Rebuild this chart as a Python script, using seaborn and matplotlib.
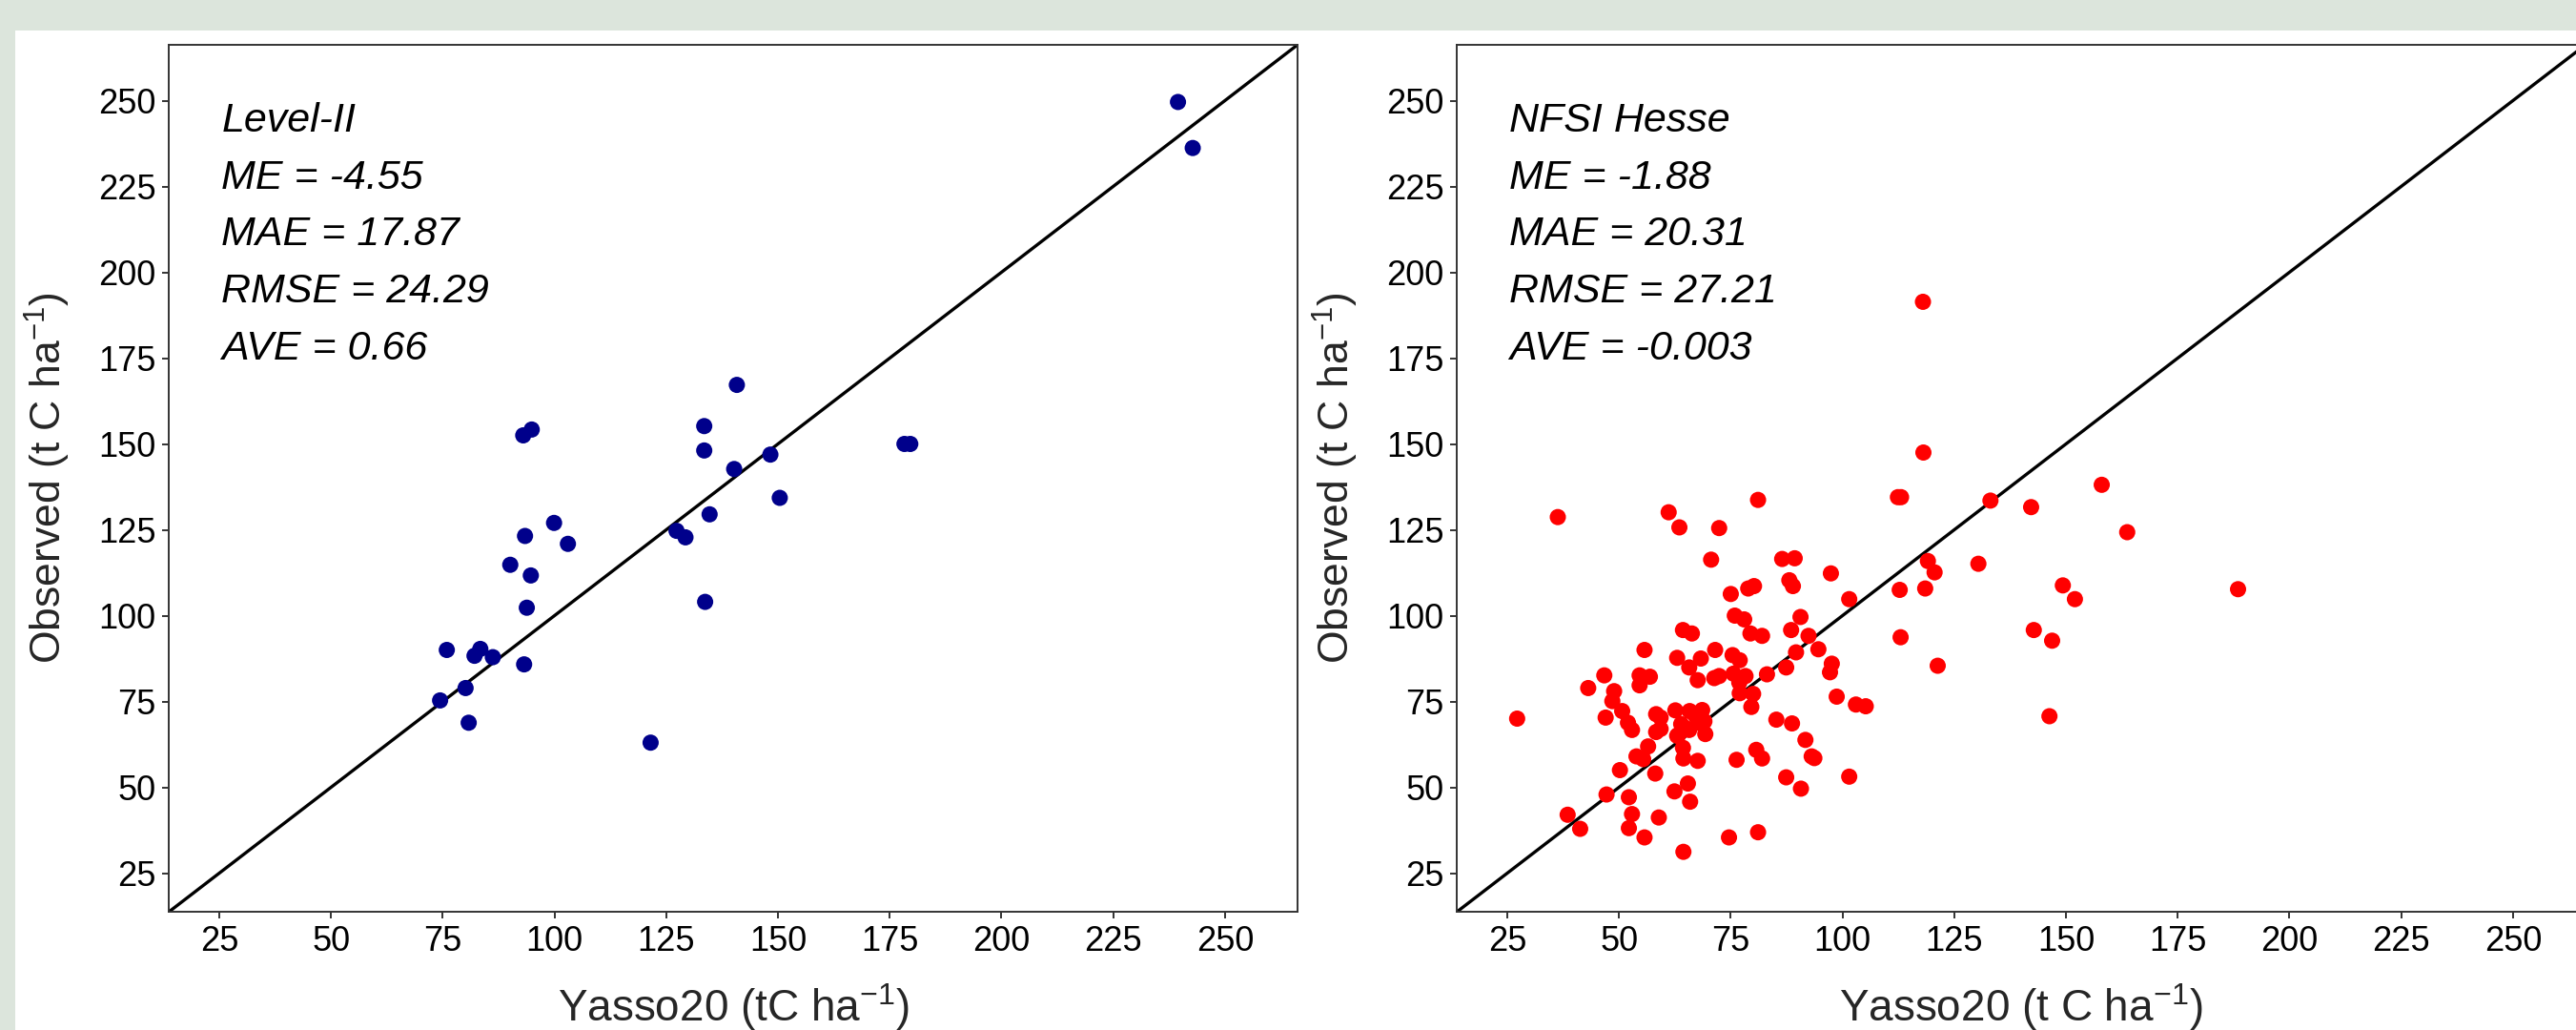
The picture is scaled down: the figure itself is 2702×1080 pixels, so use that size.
import matplotlib
matplotlib.use("Agg")
import matplotlib.pyplot as plt
import seaborn as sns
import pandas as pd
from matplotlib.patches import Rectangle

# ---------------- data ----------------
level2_yasso = [239.5, 242.8, 140.8, 133.5, 133.5, 148.3, 140.2, 150.4, 134.7, 127.3,
                129.3, 133.7, 121.5, 178.3, 179.6, 93.0, 94.9, 99.9, 103.0, 93.4,
                90.1, 94.7, 93.8, 93.2, 75.9, 82.1, 83.4, 86.2, 74.4, 80.1, 80.8]
level2_obs = [249.6, 236.2, 167.2, 155.2, 148.1, 146.9, 142.7, 134.3, 129.5, 124.7,
              122.8, 104.0, 63.0, 150.0, 150.0, 152.5, 154.2, 127.0, 120.9, 123.2,
              114.8, 111.7, 102.3, 85.8, 90.0, 88.3, 90.3, 87.9, 75.3, 78.9, 68.8]

hesse_yasso = [118.0, 118.1, 158.0, 112.4, 113.1, 133.1, 142.2, 163.7, 36.3, 61.1,
               63.5, 72.4, 81.1, 70.6, 86.5, 89.3, 97.4, 130.4, 119.1, 120.6,
               112.8, 118.5, 149.3, 152.0, 188.5, 101.5, 75.0, 78.9, 80.2, 88.1,
               88.9, 75.9, 78.0, 90.6, 88.5, 92.4, 79.4, 82.0, 64.3, 66.3,
               113.0, 142.8, 146.9, 121.3, 146.3, 94.6, 89.6, 55.7, 63.0, 68.3,
               71.5, 75.4, 77.0, 65.7, 67.6, 71.3, 72.4, 46.7, 54.6, 56.9,
               54.6, 43.1, 48.9, 48.5, 47.0, 50.7, 52.0, 52.9, 27.2, 58.3,
               59.3, 58.3, 59.3, 62.6, 65.8, 68.6, 69.1, 69.3, 63.9, 65.2,
               63.3, 65.7, 75.6, 76.9, 77.0, 78.3, 80.0, 79.6, 83.1, 87.4,
               97.6, 97.2, 98.7, 103.0, 105.2, 85.2, 88.7, 91.7, 93.1, 93.7,
               76.3, 80.7, 82.0, 87.4, 90.7, 101.5, 56.5, 53.9, 55.4, 58.1,
               50.2, 47.2, 52.2, 52.9, 52.2, 55.7, 58.9, 38.5, 41.3, 64.3,
               64.4, 65.4, 62.4, 65.9, 64.4, 67.6, 74.6, 81.1, 67.2, 68.1,
               63.0]
hesse_obs = [191.4, 147.5, 138.1, 134.5, 134.5, 133.5, 131.6, 124.3, 128.7, 130.1,
             125.7, 125.5, 133.7, 116.3, 116.5, 116.7, 112.3, 115.1, 115.9, 112.6,
             107.5, 107.9, 108.8, 104.8, 107.7, 104.8, 106.3, 107.9, 108.6, 110.3,
             108.6, 100.0, 98.9, 99.6, 95.8, 94.1, 94.8, 94.1, 95.8, 94.8,
             93.7, 95.8, 92.7, 85.4, 70.7, 90.2, 89.3, 90.0, 87.7, 87.5,
             90.0, 88.5, 87.0, 84.9, 81.2, 81.8, 82.4, 82.6, 82.6, 82.2,
             79.7, 78.9, 78.0, 75.1, 70.3, 72.2, 68.8, 66.7, 70.0, 71.3,
             70.3, 66.1, 67.0, 72.4, 72.2, 72.5, 69.2, 65.5, 68.4, 67.0,
             65.3, 66.7, 83.1, 80.5, 77.4, 82.4, 77.2, 73.4, 82.9, 84.9,
             86.0, 83.5, 76.4, 74.1, 73.6, 69.7, 68.6, 63.8, 59.0, 58.5,
             58.0, 60.9, 58.4, 52.9, 49.6, 53.1, 61.9, 59.0, 58.2, 54.0,
             55.0, 47.9, 47.1, 42.2, 38.1, 35.4, 41.2, 42.0, 37.9, 61.5,
             58.4, 51.1, 48.8, 45.8, 31.2, 57.7, 35.4, 36.9, 70.6, 68.7,
             65.0]

ticks = [25, 50, 75, 100, 125, 150, 175, 200, 225, 250]
limits = (13.75, 266.25)

level2_text = ["Level-II", "ME = -4.55", "MAE = 17.87", "RMSE = 24.29", "AVE = 0.66"]
hesse_text = ["NFSI Hesse", "ME = -1.88", "MAE = 20.31", "RMSE = 27.21", "AVE = -0.003"]
text_y = [241.0, 224.4, 207.8, 191.2, 174.6]

ylabel = "Observed (t C ha$^{-1}$)"
xlabel_left = "Yasso20 (tC ha$^{-1}$)"
xlabel_right = "Yasso20 (t C ha$^{-1}$)"

# ---------------- style ----------------
sns.set_style("white")
plt.rcParams['font.family'] = ['Liberation Sans', 'DejaVu Sans']
plt.rcParams['mathtext.fontset'] = 'custom'
plt.rcParams['mathtext.rm'] = 'Liberation Sans'
plt.rcParams['mathtext.it'] = 'Liberation Sans:italic'
plt.rcParams['mathtext.default'] = 'regular'

W, H = 2702, 1080
fig = plt.figure(figsize=(W / 100, H / 100), dpi=100)
fig.patch.set_facecolor('#dce5dc')
bg = Rectangle((16 / W, 0), 1, (H - 32) / H, transform=fig.transFigure,
               facecolor='white', edgecolor='none', zorder=-10)
fig.patches.append(bg)

ax_w = 1183.7 / W
ax_h = 909 / H
ax_b = 124 / H
ax1 = fig.add_axes([177.3 / W, ax_b, ax_w, ax_h], zorder=1)
ax2 = fig.add_axes([1528.3 / W, ax_b, ax_w, ax_h], zorder=1)

df1 = pd.DataFrame({"yasso": level2_yasso, "obs": level2_obs})
df2 = pd.DataFrame({"yasso": hesse_yasso, "obs": hesse_obs})

panels = [(ax1, df1, '#00008b', level2_text, xlabel_left),
          (ax2, df2, '#ff0000', hesse_text, xlabel_right)]

for ax, df, col, txt, xl in panels:
    ax.set_facecolor('none')
    ax.axline((0, 0), slope=1, color='black', lw=2.4, zorder=2)
    sns.scatterplot(data=df, x="yasso", y="obs", ax=ax, color=col, s=150,
                    edgecolor='none', linewidth=0, zorder=3)
    ax.set_xlim(limits)
    ax.set_ylim(limits)
    ax.set_xticks(ticks)
    ax.set_yticks(ticks)
    ax.tick_params(axis='both', which='both', labelsize=26, length=5, width=1.4,
                   color='#333333', labelcolor='black', pad=5,
                   bottom=True, left=True, direction='out')
    for sp in ax.spines.values():
        sp.set_visible(True)
        sp.set_color('#333333')
        sp.set_linewidth(1.4)
    ax.set_xlabel(xl, fontsize=33)
    ax.set_ylabel(ylabel, fontsize=32)
    ax.xaxis.set_label_coords(0.5, -0.08)
    ax.yaxis.set_label_coords(-0.086, 0.5)
    ax.xaxis.label.set_va('top')
    for t, yy in zip(txt, text_y):
        ax.text(25.5, yy, t, fontsize=31, fontstyle='italic', ha='left',
                va='baseline', color='black', zorder=4)

fig.savefig("out.png", dpi=100, facecolor=fig.get_facecolor())
